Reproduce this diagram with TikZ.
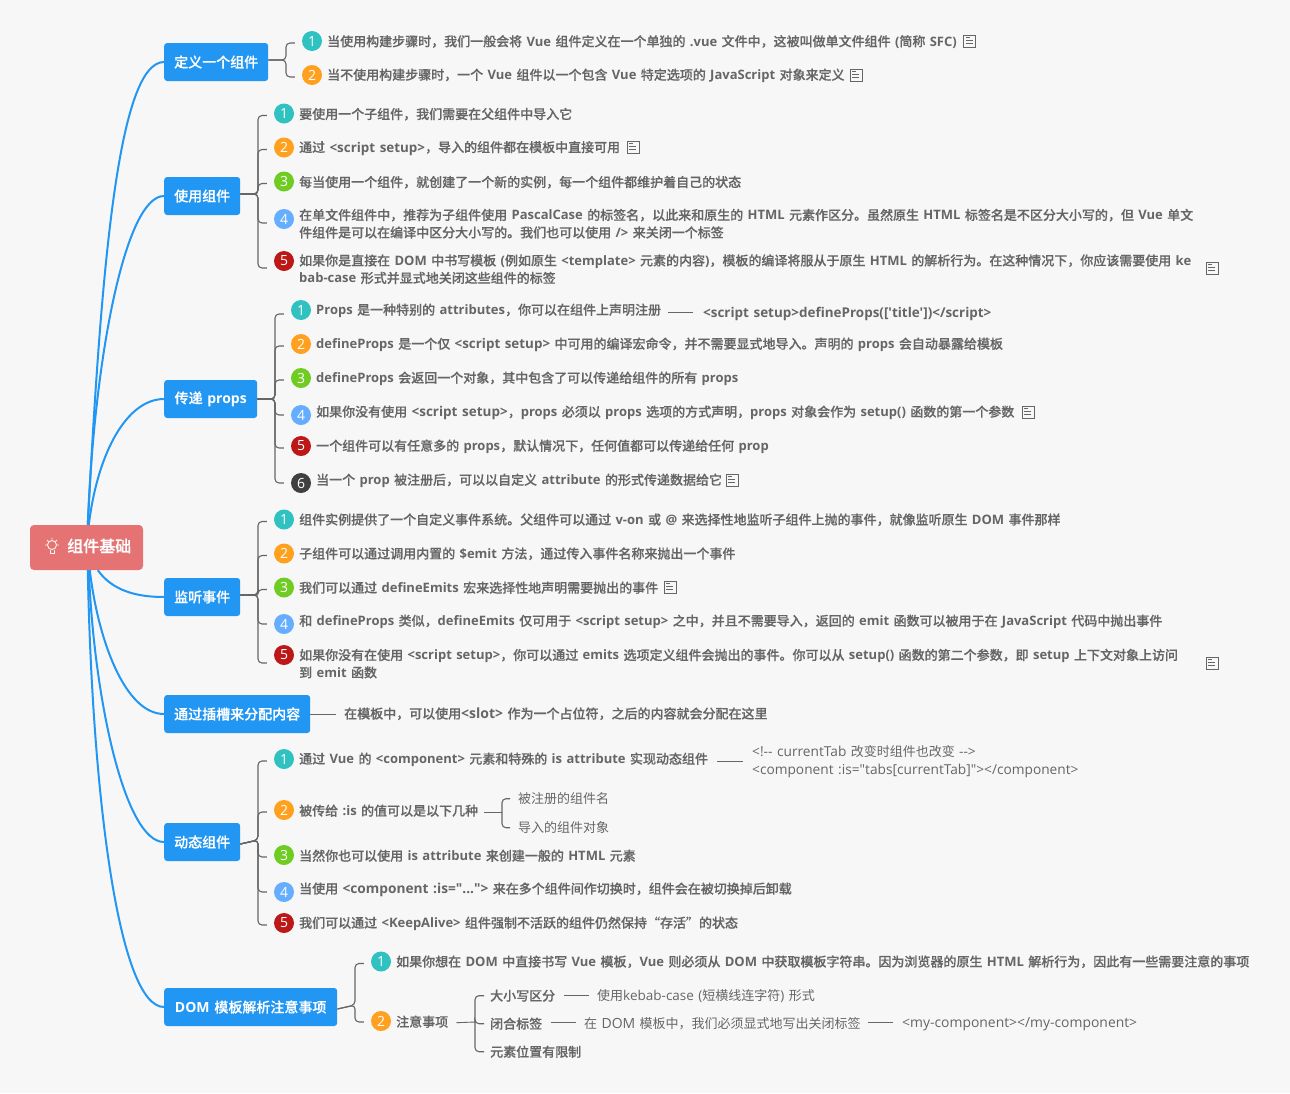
\documentclass[tikz,border=0pt]{standalone}
\usepackage{fontspec}
\usetikzlibrary{calc}
\setmainfont{Noto Sans CJK SC}[WordSpace=1.5,BoldFont={Noto Sans CJK SC Medium},BoldFeatures={FakeBold=0.25}]
\newfontfamily\lat{Open Sans}[WordSpace=1.3]
\newcommand\E[1]{{\lat #1}}
\newcommand\R[2][14]{{\lat\fontsize{#1}{18}\selectfont #2}}
\definecolor{bgc}{HTML}{F7F7F7}
\definecolor{blu}{HTML}{2196F3}
\definecolor{gry}{HTML}{666666}
\definecolor{rootc}{HTML}{E57373}
\definecolor{bA}{HTML}{30C2C0}
\definecolor{bB}{HTML}{FFA01E}
\definecolor{bC}{HTML}{70CC22}
\definecolor{bD}{HTML}{64ADFF}
\definecolor{bE}{HTML}{BC1818}
\definecolor{bF}{HTML}{404040}
\tikzset{
 branch/.style={fill=blu,rounded corners=3pt,text=white,font=\fontsize{14}{14}\selectfont\bfseries,minimum height=38pt,inner sep=0pt,anchor=west},
 rootn/.style={fill=rootc,rounded corners=4pt,minimum width=113pt,minimum height=45pt,inner sep=0pt},
 curve/.style={draw=blu,line width=2pt},
 conn/.style={draw=gry,line width=1.1pt,rounded corners=4pt},
 lnk/.style={draw=gry,line width=.9pt},
 badge/.style={circle,minimum size=20pt,inner sep=0pt,text=white,font=\fontsize{14}{14}\selectfont\lat},
 txt/.style={anchor=west,inner sep=0pt,yshift=-.7pt,text=gry,font=\fontsize{13}{17.5}\selectfont\bfseries,align=left},
 reg/.style={anchor=west,inner sep=0pt,yshift=-.7pt,text=gry,font=\fontsize{13}{18}\selectfont,align=left},
 noteicon/.style={draw=gry,line width=.9pt,minimum width=12pt,minimum height=12pt,inner sep=0pt},
}
\newcommand\noteat[2]{\node[noteicon] (#1) at #2 {};
 \draw[gry,line width=.8pt] ($(#1.north west)+(2.5,3)$) -- ++(4,0) ($(#1.north west)+(2.5,6)$) -- ++(7,0) ($(#1.north west)+(2.5,9)$) -- ++(7,0);}
\begin{document}
\begin{tikzpicture}[x=1pt,y=-1pt]
\fill[bgc] (0,0) rectangle (1290,1093);
\useasboundingbox (0,0) rectangle (1290,1093);
% root
\node[rootn] (root) at (86.5,547.5) {};
\node[anchor=west,inner sep=0pt,text=white,font=\fontsize{16}{16}\selectfont\bfseries] (roott) at (67,546) {组件基础};
\begin{scope}[white,line width=.9pt,opacity=.9]
\draw (52,545) circle (4.5);
\draw (50,550) -- (50,553.5) -- (54,553.5) -- (54,550);
\draw (52,537.5)--(52,539.5) (45,545)--(47,545) (57,545)--(59,545) (47,540)--(48.5,541.5) (57,540)--(55.5,541.5);
\end{scope}
% branches
\node[branch,minimum width=104pt] (b1) at (164,62) {定义一个组件};
\node[branch,minimum width=76pt] (b2) at (164,196) {使用组件};
\node[branch,minimum width=93pt] (b3) at (164,399) {传递 \E{props}};
\node[branch,minimum width=76pt] (b4) at (164,597) {监听事件};
\node[branch,minimum width=146pt] (b5) at (164,714) {通过插槽来分配内容};
\node[branch,minimum width=76pt] (b6) at (164,842) {动态组件};
\node[branch,minimum width=173pt] (b7) at (164,1007) {\E{DOM} 模板解析注意事项};
% curves
\draw[curve] (root.north west) ++(58,0) .. controls (101,270) and (118,62) .. (b1.west);
\draw[curve] (root.north west) ++(58,0) .. controls (94,360) and (125,196) .. (b2.west);
\draw[curve] (root.north west) ++(59,0) .. controls (98,450) and (128,399) .. (b3.west);
\draw[curve] (root.south west) ++(68,0) .. controls (112,590) and (135,597) .. (b4.west);
\draw[curve] (root.south west) ++(60,0) .. controls (98,640) and (125,714) .. (b5.west);
\draw[curve] (root.south west) ++(59,0) .. controls (94,700) and (125,842) .. (b6.west);
\draw[curve] (root.south west) ++(58,0) .. controls (92,790) and (118,1007) .. (b7.west);
% ---- group 1
\node[badge,fill=bA] (a1) at (312,41) {1};
\node[txt] (ta1) at (327,41) {当使用构建步骤时，我们一般会将 \E{Vue} 组件定义在一个单独的 \E{.vue} 文件中，这被叫做单文件组件 \E{(}简称 \E{SFC)}};
\noteat{ia1}{(969.5,41)}
\node[badge,fill=bB] (a2) at (312,75) {2};
\node[txt] (ta2) at (327,75) {当不使用构建步骤时，一个 \E{Vue} 组件以一个包含 \E{Vue} 特定选项的 \E{JavaScript} 对象来定义};
\noteat{ia2}{(856,75)}
\foreach \n/\e in {a1/2,a2/2}{\draw[conn] ([yshift=2pt]b1.east) -- (286,60) |- ($(\n.west)+(-7,\e)$);}
% ---- group 2
\node[badge,fill=bA] (c1) at (284,113.5) {1};
\node[txt] (tc1) at (299,113.5) {要使用一个子组件，我们需要在父组件中导入它};
\node[badge,fill=bB] (c2) at (284,147.5) {2};
\node[txt] (tc2) at (299,147.5) {通过 \R[13.4]{<script setup>}，导入的组件都在模板中直接可用};
\noteat{ic2}{(633,147)}
\node[badge,fill=bC] (c3) at (284,181.5) {3};
\node[txt] (tc3) at (299,181.5) {每当使用一个组件，就创建了一个新的实例，每一个组件都维护着自己的状态};
\node[badge,fill=bD] (c4) at (284,219) {4};
\node[txt] (tc4) at (299,223) {在单文件组件中，推荐为子组件使用 \E{PascalCase} 的标签名，以此来和原生的 \E{HTML} 元素作区分。虽然原生 \E{HTML} 标签名是不区分大小写的，但 \E{Vue} 单文\\件组件是可以在编译中区分大小写的。我们也可以使用 \E{/>} 来关闭一个标签};
\node[badge,fill=bE] (c5) at (284,261) {5};
\node[txt] (tc5) at (299,268.5) {如果你是直接在 \E{DOM} 中书写模板 \E{(}例如原生 \E{<template>} 元素的内容\E{)}，模板的编译将服从于原生 \E{HTML} 的解析行为。在这种情况下，你应该需要使用 \E{ke}\\\E{bab-case} 形式并显式地关闭这些组件的标签};
\noteat{ic5}{(1212,268)}
\foreach \n/\e in {c1/2,c2/2,c3/2,c4/4,c5/7}{\draw[conn] ([yshift=2pt]b2.east) -- (258,194) |- ($(\n.west)+(-7,\e)$);}
% ---- group 3
\node[badge,fill=bA] (d1) at (301,310) {1};
\node[txt] (td1) at (316,310) {\E{Props} 是一种特别的 \E{attributes}，你可以在组件上声明注册};
\node[txt] (rd1) at (703,313) {\R[13.45]{<script setup>defineProps(['title'])</script>}};
\draw[lnk] (668,312) -- (693,312);
\node[badge,fill=bB] (d2) at (301,344) {2};
\node[txt] (td2) at (316,344) {\E{defineProps} 是一个仅 \R[13.4]{<script setup>} 中可用的编译宏命令，并不需要显式地导入。声明的 \E{props} 会自动暴露给模板};
\node[badge,fill=bC] (d3) at (301,378) {3};
\node[txt] (td3) at (316,378) {\E{defineProps} 会返回一个对象，其中包含了可以传递给组件的所有 \E{props}};
\node[badge,fill=bD] (d4) at (301,415) {4};
\node[txt] (td4) at (316,412) {如果你没有使用 \R[13.5]{<script setup>}，\E{props} 必须以 \E{props} 选项的方式声明，\E{props} 对象会作为 \E{setup()} 函数的第一个参数};
\noteat{id4}{(1028,412)}
\node[badge,fill=bE] (d5) at (301,446) {5};
\node[txt] (td5) at (316,446) {一个组件可以有任意多的 \E{props}，默认情况下，任何值都可以传递给任何 \E{prop}};
\node[badge,fill=bF] (d6) at (301,483) {6};
\node[txt] (td6) at (316,480) {当一个 \E{prop} 被注册后，可以以自定义 \E{attribute} 的形式传递数据给它};
\noteat{id6}{(732,480)}
\foreach \n/\e in {d1/4,d2/2,d3/2,d4/0,d5/2,d6/0}{\draw[conn] (b3.east) -- (275,399) |- ($(\n.west)+(-7,\e)$);}
% ---- group 4
\node[badge,fill=bA] (e1) at (284,519.5) {1};
\node[txt] (te1) at (299,519) {组件实例提供了一个自定义事件系统。父组件可以通过 \E{v-on} 或 \E{@} 来选择性地监听子组件上抛的事件，就像监听原生 \E{DOM} 事件那样};
\node[badge,fill=bB] (e2) at (284,553.5) {2};
\node[txt] (te2) at (299,553) {子组件可以通过调用内置的 \E{\$emit} 方法，通过传入事件名称来抛出一个事件};
\node[badge,fill=bC] (e3) at (284,587.5) {3};
\node[txt] (te3) at (299,587) {我们可以通过 \E{defineEmits} 宏来选择性地声明需要抛出的事件};
\noteat{ie3}{(670,587)}
\node[badge,fill=bD] (e4) at (284,624) {4};
\node[txt] (te4) at (299,621) {和 \E{defineProps} 类似，\E{defineEmits} 仅可用于 \E{<script setup>} 之中，并且不需要导入，返回的 \E{emit} 函数可以被用于在 \E{JavaScript} 代码中抛出事件};
\node[badge,fill=bE] (e5) at (284,655) {5};
\node[txt] (te5) at (299,663) {如果你没有在使用 \E{<script setup>}，你可以通过 \E{emits} 选项定义组件会抛出的事件。你可以从 \E{setup()} 函数的第二个参数，即 \E{setup} 上下文对象上访问\\到 \E{emit} 函数};
\noteat{ie5}{(1212,663)}
\foreach \n/\e in {e1/2,e2/2,e3/2,e4/0,e5/8}{\draw[conn] ([yshift=2pt]b4.east) -- (258,595) |- ($(\n.west)+(-7,\e)$);}
% ---- group 5
\node[txt] (f1) at (344,713) {在模板中，可以使用\R{<slot>} 作为一个占位符，之后的内容就会分配在这里};
\draw[lnk] (b5.east) -- (336,714);
% ---- group 6
\node[badge,fill=bA] (g1) at (284,759) {1};
\node[txt] (tg1) at (299,759) {通过 \E{Vue} 的 \E{<component>} 元素和特殊的 \E{is attribute} 实现动态组件};
\node[reg] (rg1) at (752,761) {\R[13.7]{<!-- currentTab} 改变时组件也改变 \R[13.7]{-->}\\\R[13.7]{<component :is="tabs[currentTab]"></component>}};
\draw[lnk] (717,761) -- (743,761);
\node[badge,fill=bB] (g2) at (284,810) {2};
\node[txt] (tg2) at (299,810) {被传给 \E{:is} 的值可以是以下几种};
\node[reg] (rg21) at (518,798) {被注册的组件名};
\node[reg] (rg22) at (518,827) {导入的组件对象};
\draw[lnk] (484,812) -- (502,812);
\draw[conn] (502,812) |- ($(rg21.west)+(-8,0)$);
\draw[conn] (502,812) |- ($(rg22.west)+(-8,0)$);
\node[badge,fill=bC] (g3) at (284,855) {3};
\node[txt] (tg3) at (299,855) {当然你也可以使用 \E{is attribute} 来创建一般的 \E{HTML} 元素};
\node[badge,fill=bD] (g4) at (284,892) {4};
\node[txt] (tg4) at (299,889) {当使用 \R[13.7]{<component :is="...">} 来在多个组件间作切换时，组件会在被切换掉后卸载};
\node[badge,fill=bE] (g5) at (284,923) {5};
\node[txt] (tg5) at (299,923) {我们可以通过 \E{<KeepAlive>} 组件强制不活跃的组件仍然保持“存活”的状态};
\foreach \n/\e in {g1/2,g2/2,g3/2,g4/0,g5/2}{\draw[conn] ([yshift=-2pt]b6.east) -- (258,840) |- ($(\n.west)+(-7,\e)$);}
% ---- group 7
\node[badge,fill=bA] (h1) at (381,961.5) {1};
\node[txt] (th1) at (396,961) {如果你想在 \E{DOM} 中直接书写 \E{Vue} 模板，\E{Vue} 则必须从 \E{DOM} 中获取模板字符串。因为浏览器的原生 \E{HTML} 解析行为，因此有一些需要注意的事项};
\node[badge,fill=bB] (h2) at (381,1021) {2};
\node[txt] (th2) at (396,1021) {注意事项};
\node[txt] (s1) at (490,995) {大小写区分};
\node[txt] (s2) at (490,1023) {闭合标签};
\node[txt] (s3) at (490,1051) {元素位置有限制};
\node[reg] (r1) at (597,995) {使用\R[13.5]{kebab-case (}短横线连字符\R[13.5]{)} 形式};
\node[reg] (r2) at (584,1023) {在 \R{DOM} 模板中，我们必须显式地写出关闭标签};
\node[reg] (r3) at (902,1023) {\R[13.9]{<my-component></my-component>}};
\foreach \n/\e in {h1/2,h2/1}{\draw[conn] ([yshift=-2pt]b7.east) -- (355,1005) |- ($(\n.west)+(-7,\e)$);}
\draw[lnk] (th2.east) ++(8,1) -- (475,1022);
\foreach \n in {s1,s2,s3}{\draw[conn] (475,1022) |- ($(\n.west)+(-6,0)$);}
\draw[lnk] (564,995) -- (589,995);
\draw[lnk] (551,1022) -- (576,1022);
\draw[lnk] (868,1022) -- (893,1022);
\end{tikzpicture}
\end{document}
